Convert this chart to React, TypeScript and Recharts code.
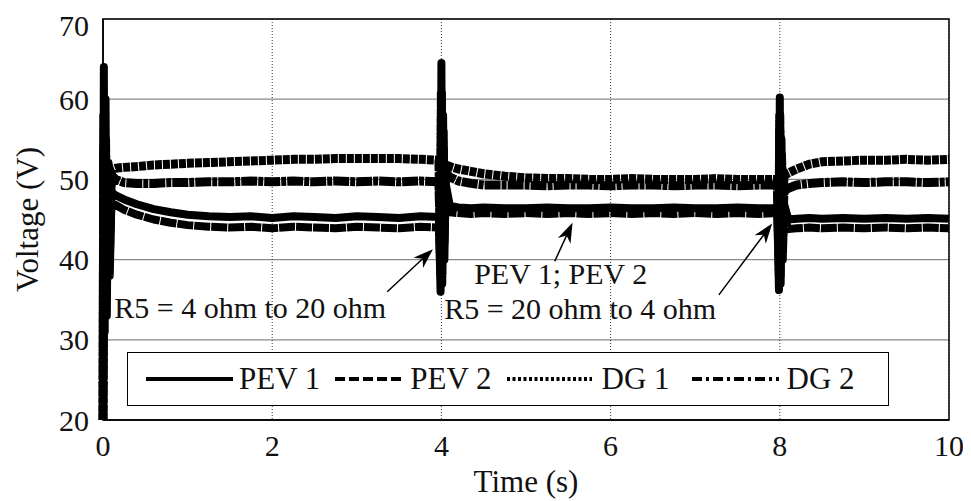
import React from 'react';
import {
  LineChart,
  Line,
  XAxis,
  YAxis,
  CartesianGrid,
  Legend,
  ReferenceArea,
  ReferenceLine,
  ReferenceDot,
} from 'recharts';

const FONT = '"Liberation Serif", "Times New Roman", serif';

// time axis (s)
const time = [
  0, 0.01, 0.02, 0.03, 0.045, 0.06, 0.08, 0.1,
  0.15, 0.25, 0.4, 0.6, 0.8, 1.0, 1.25, 1.5, 1.75,
  2.0, 2.25, 2.5, 2.75, 3.0, 3.25, 3.5, 3.75, 3.97,
  3.99, 4.0, 4.01, 4.02, 4.035, 4.05,
  4.1, 4.2, 4.35, 4.5, 4.75, 5.0, 5.25, 5.5, 5.75, 6.0, 6.25, 6.5, 6.75, 7.0, 7.25, 7.5, 7.75, 7.97,
  7.99, 8.0, 8.01, 8.02, 8.035, 8.05,
  8.1, 8.2, 8.35, 8.5, 8.75, 9.0, 9.25, 9.5, 9.75, 10,
];

// voltages (V)
const pev1 = [
  20, 64, 31, 60, 33, 52, 38, 48.4,
  48.0, 47.5, 46.9, 46.3, 45.9, 45.6, 45.4, 45.3, 45.4,
  45.2, 45.4, 45.3, 45.2, 45.4, 45.3, 45.2, 45.4, 45.3,
  36, 64.5, 38, 58, 40, 49.5,
  46.7, 46.5, 46.4, 46.5, 46.4, 46.4, 46.5, 46.4, 46.4, 46.5, 46.4, 46.4, 46.5, 46.4, 46.4, 46.5, 46.4, 46.4,
  36.2, 60.2, 38, 55, 41, 47,
  45.0, 45.1, 45.2, 45.1, 45.2, 45.1, 45.2, 45.1, 45.2, 45.1,
];

const pev2 = [
  20, 56, 34, 54, 36, 50, 40, 47,
  46.8, 46.2, 45.6, 45.0, 44.6, 44.3, 44.1, 44.0, 44.1,
  43.9, 44.1, 44.0, 43.9, 44.1, 44.0, 43.9, 44.1, 44.0,
  38, 60, 37, 54, 42, 47.5,
  45.9, 45.8, 45.7, 45.8, 45.7, 45.8, 45.7, 45.8, 45.7, 45.8, 45.7, 45.8, 45.7, 45.8, 45.7, 45.8, 45.7, 45.8,
  38, 57, 37, 52, 40, 45.5,
  43.8, 43.9, 44.0, 43.9, 44.0, 43.9, 44.0, 43.9, 44.0, 43.9,
];

const dg1 = [
  20, 58, 36, 55, 40, 52, 45, 51.2,
  51.4, 51.5, 51.6, 51.8, 51.9, 52.0, 52.1, 52.2, 52.3,
  52.4, 52.5, 52.5, 52.6, 52.6, 52.6, 52.6, 52.5, 52.4,
  44, 61, 42, 56, 46, 51.8,
  51.6, 51.3, 51.0, 50.7, 50.4, 50.2, 50.1, 50.1, 50.0, 50.0, 50.1, 50.0, 50.0, 50.0, 50.1, 50.0, 50.0, 50.0,
  44, 58, 43, 53, 47, 50.5,
  50.8, 51.3, 51.9, 52.2, 52.3, 52.4, 52.4, 52.5, 52.4, 52.5,
];

const dg2 = [
  20, 54, 38, 52, 42, 51, 46, 50.5,
  50.0, 49.6, 49.5, 49.5, 49.6, 49.6, 49.7, 49.7, 49.8,
  49.7, 49.8, 49.7, 49.8, 49.7, 49.8, 49.7, 49.8, 49.7,
  42, 58, 40, 54, 45, 50.8,
  50.3, 49.8, 49.5, 49.3, 49.3, 49.3, 49.2, 49.3, 49.3, 49.2, 49.3, 49.3, 49.2, 49.3, 49.3, 49.2, 49.3, 49.3,
  42, 56, 41, 52, 45, 48.5,
  48.9, 49.3, 49.5, 49.6, 49.7, 49.6, 49.7, 49.7, 49.6, 49.7,
];

const xTicks = [0, 2, 4, 6, 8, 10];
const yTicks = [20, 30, 40, 50, 60, 70];

// annotations: arrows (tail -> tip) and texts, in data units
const arrows = [
  { from: { x: 3.36, y: 36.0 }, to: { x: 3.9, y: 41.3 } },
  { from: { x: 5.34, y: 39.8 }, to: { x: 5.55, y: 44.6 } },
  { from: { x: 7.28, y: 35.6 }, to: { x: 7.91, y: 44.5 } },
];
const notes = [
  { x: 1.74, y: 34.1, text: 'R5 = 4 ohm to 20 ohm' },
  { x: 5.41, y: 38.3, text: 'PEV 1; PEV 2' },
  { x: 5.64, y: 33.9, text: 'R5 = 20 ohm to 4 ohm' },
];

const data = time.map((t, i) => ({ t, pev1: pev1[i], pev2: pev2[i], dg1: dg1[i], dg2: dg2[i] }));

const series = [
  { key: 'pev1', name: 'PEV 1', dash: undefined, width: 8, legendDash: undefined, sampleW: 87, gap: 18, textGap: 6 },
  { key: 'pev2', name: 'PEV 2', dash: '16 1', width: 8, legendDash: '10 4', sampleW: 68, gap: 15, textGap: 7 },
  { key: 'dg1', name: 'DG 1', dash: '7 1', width: 9, legendDash: '3 2.5', sampleW: 85, gap: 15, textGap: 10 },
  { key: 'dg2', name: 'DG 2', dash: '16 1 5 1', width: 9, legendDash: '10 4 3 4', sampleW: 87, gap: 22, textGap: 8 },
];

const ArrowShape = (props: any) => {
  const { x1, y1, x2, y2 } = props;
  if ([x1, y1, x2, y2].some((v) => typeof v !== 'number')) return null;
  const a = Math.atan2(y2 - y1, x2 - x1);
  const ux = Math.cos(a);
  const uy = Math.sin(a);
  const L = 20;
  const W = 7;
  const bx = x2 - L * ux;
  const by = y2 - L * uy;
  const nx = x2 - (L - 6) * ux;
  const ny = y2 - (L - 6) * uy;
  const pts = [
    [x2, y2],
    [bx - W * uy, by + W * ux],
    [nx, ny],
    [bx + W * uy, by - W * ux],
  ]
    .map((p) => p.join(','))
    .join(' ');
  return (
    <g>
      <line x1={x1} y1={y1} x2={nx} y2={ny} stroke="#000" strokeWidth={1.5} />
      <polygon points={pts} fill="#000" />
    </g>
  );
};

const renderLegend = () => (
  <div
    style={{
      display: 'flex',
      alignItems: 'center',
      height: '100%',
      border: '1.5px solid #000',
      background: '#fff',
      boxSizing: 'border-box',
      fontFamily: FONT,
      fontSize: 31,
      color: '#111',
      whiteSpace: 'nowrap',
    }}
  >
    {series.map((s) => (
      <div key={s.key} style={{ display: 'flex', alignItems: 'center', marginLeft: s.gap }}>
        <svg width={s.sampleW} height={10}>
          <line x1={0} y1={5} x2={s.sampleW} y2={5} stroke="#000" strokeWidth={4} strokeDasharray={s.legendDash} />
        </svg>
        <span style={{ marginLeft: s.textGap }}>{s.name}</span>
      </div>
    ))}
  </div>
);

export default function App() {
  return (
    <div style={{ width: 963, height: 493, position: 'relative' }}>
      <LineChart width={963} height={493} data={data} margin={{ top: 11, right: 22, bottom: 0, left: 0 }}>
        <CartesianGrid vertical={false} stroke="#8a8a8a" strokeWidth={1.2} />
        <CartesianGrid horizontal={false} stroke="#333" strokeDasharray="1 2" />
        <XAxis
          dataKey="t"
          type="number"
          domain={[0, 10]}
          ticks={xTicks}
          height={81}
          tickLine={false}
          axisLine={{ stroke: '#000', strokeWidth: 1.5 }}
          tickMargin={9}
          tick={{ fill: '#111', fontSize: 30, fontFamily: FONT }}
          label={{ value: 'Time (s)', position: 'insideBottom', offset: 9, fill: '#111', fontSize: 31, fontFamily: FONT }}
        />
        <YAxis
          type="number"
          domain={[20, 70]}
          ticks={yTicks}
          width={95}
          tickLine={false}
          axisLine={{ stroke: '#000', strokeWidth: 1.5 }}
          tickMargin={8}
          tick={{ fill: '#111', fontSize: 30, fontFamily: FONT }}
          label={{
            value: 'Voltage (V)',
            angle: -90,
            position: 'insideLeft',
            offset: 19,
            fill: '#111',
            fontSize: 31,
            fontFamily: FONT,
            style: { textAnchor: 'middle' },
          }}
        />
        <ReferenceArea x1={0} x2={10} y1={20} y2={70} fill="none" stroke="#000" strokeWidth={1.5} />
        {series.map((s) => (
          <Line
            key={s.key}
            dataKey={s.key}
            name={s.name}
            type="linear"
            stroke="#000"
            strokeWidth={s.width}
            strokeDasharray={s.dash}
            strokeLinejoin="round"
            dot={false}
            isAnimationActive={false}
          />
        ))}
        {arrows.map((a, i) => (
          <ReferenceLine key={`arr${i}`} segment={[a.from, a.to]} shape={ArrowShape} />
        ))}
        {notes.map((n, i) => (
          <ReferenceDot
            key={`note${i}`}
            x={n.x}
            y={n.y}
            r={0}
            stroke="none"
            fill="none"
            label={{ value: n.text, position: 'center', fill: '#111', fontSize: 30, fontFamily: FONT }}
          />
        ))}
        <Legend
          layout="vertical"
          align="center"
          verticalAlign="middle"
          content={renderLegend}
          wrapperStyle={{ left: 119, top: 344, width: 762, height: 54 }}
        />
      </LineChart>
    </div>
  );
}
